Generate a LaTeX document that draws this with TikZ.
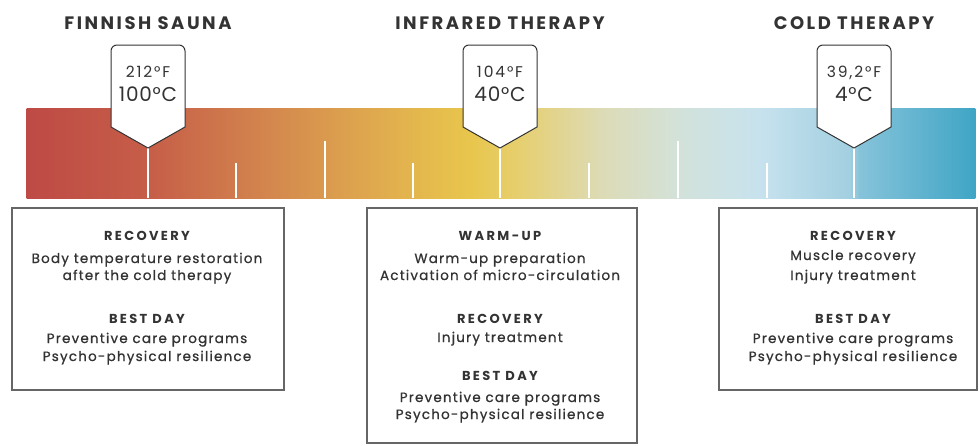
\documentclass[tikz,border=0pt]{standalone}
\usepackage{fontspec}
\setmainfont{Poppins}
\newfontfamily\bodyfont{Poppins}[LetterSpace=9, FakeBold=0.8]
\newfontfamily\headfont{Poppins}[LetterSpace=14]
\newfontfamily\subheadfont{Poppins}[LetterSpace=18]
\newfontfamily\tempfont{Poppins}[LetterSpace=4]
\newfontfamily\fahrfont{Poppins}[LetterSpace=12]
\definecolor{txt}{HTML}{333333}
\definecolor{boxline}{HTML}{666666}
\definecolor{c0}{HTML}{BE4A45}
\definecolor{c1}{HTML}{C65E48}
\definecolor{c2}{HTML}{D4894E}
\definecolor{c3}{HTML}{E2B24E}
\definecolor{c4}{HTML}{E8C64C}
\definecolor{c5}{HTML}{E6CF70}
\definecolor{c6}{HTML}{DDDBB5}
\definecolor{c7}{HTML}{D2E2DA}
\definecolor{c8}{HTML}{C7E2EE}
\definecolor{c9}{HTML}{A2CFE0}
\definecolor{c10}{HTML}{86C3DA}
\definecolor{c11}{HTML}{3FA5C5}
\begin{document}
\begin{tikzpicture}[x=1pt,y=-1pt,
  title/.style={font=\headfont\bfseries\fontsize{18}{18}\selectfont, text=txt, anchor=base, inner sep=0},
  fahr/.style={font=\fahrfont\fontsize{15.5}{15.5}\selectfont, text=txt, anchor=base, inner sep=0},
  cels/.style={font=\tempfont\fontsize{20}{20}\selectfont, text=txt, anchor=base, inner sep=0},
  head/.style={font=\subheadfont\bfseries\fontsize{13}{13}\selectfont, text=txt, anchor=base, inner sep=0},
  body/.style={font=\bodyfont\fontsize{13.5}{13.5}\selectfont, text=txt, anchor=base, inner sep=0},
  infobox/.style={draw=boxline, line width=1.3pt, fill=white},
  marker/.style={draw=txt, line width=1pt, fill=white},
  tick/.style={draw=white, line width=2.6pt}]
\useasboundingbox (0,0) rectangle (979,445);
% gradient bar
\foreach \a/\b/\ca/\cb in {27/150/c0/c1,150/275/c1/c2,275/400/c2/c3,400/470/c3/c4,470/520/c4/c5,520/600/c5/c6,600/680/c6/c7,680/760/c7/c8,760/850/c8/c9,850/860/c9/c10,860/975/c10/c11}
  \shade[left color=\ca, right color=\cb] (\a-0.4,108) rectangle (\b+0.4,198);
% ticks
\foreach \x in {236,413,589,767} \draw[tick] (\x,163) -- (\x,198);
\foreach \x in {325,678} \draw[tick] (\x,141) -- (\x,198);
\foreach \x in {148,500,854} \draw[tick] (\x,148) -- (\x,198);
% markers
\foreach \x in {148,500,854}
  \draw[marker] (\x-37,127) [rounded corners=6pt]-- (\x-37,45) -- (\x+37,45) [sharp corners]-- (\x+37,127) -- (\x,148) -- cycle;
% titles
\node[title] (t1) at (148,29) {FINNISH SAUNA};
\node[title] (t2) at (500,29) {INFRARED THERAPY};
\node[title] (t3) at (854,29) {COLD THERAPY};
% temperatures
\node[fahr] (f1) at (148,77) {212°F};
\node[cels] (k1) at (148,101) {100°C};
\node[fahr] (f2) at (500,77) {104°F};
\node[cels] (k2) at (500,101) {40°C};
\node[fahr] (f3) at (854,77) {39,2°F};
\node[cels] (k3) at (854,101) {4°C};
% boxes
\draw[infobox] (12,208) rectangle (284,390);
\draw[infobox] (367,208) rectangle (637,443);
\draw[infobox] (719,208) rectangle (977,390);
% box 1
\node[head] (a1) at (147,240) {RECOVERY};
\node[body] (a2) at (147,263) {Body temperature restoration};
\node[body] (a3) at (147,280) {after the cold therapy};
\node[head] (a4) at (147,323) {BEST DAY};
\node[body] (a5) at (147,343) {Preventive care programs};
\node[body] (a6) at (147,361) {Psycho-physical resilience};
% box 2
\node[head] (b1) at (500,240) {WARM-UP};
\node[body] (b2) at (500,263) {Warm-up preparation};
\node[body] (b3) at (500,280) {Activation of micro-circulation};
\node[head] (b4) at (500,323) {RECOVERY};
\node[body] (b5) at (500,342) {Injury treatment};
\node[head] (b6) at (500,380) {BEST DAY};
\node[body] (b7) at (500,402) {Preventive care programs};
\node[body] (b8) at (500,419) {Psycho-physical resilience};
% box 3
\node[head] (c1) at (853,240) {RECOVERY};
\node[body] (c2) at (853,260) {Muscle recovery};
\node[body] (c3) at (853,280) {Injury treatment};
\node[head] (c4) at (853,323) {BEST DAY};
\node[body] (c5) at (853,343) {Preventive care programs};
\node[body] (c6) at (853,361) {Psycho-physical resilience};
\end{tikzpicture}
\end{document}
